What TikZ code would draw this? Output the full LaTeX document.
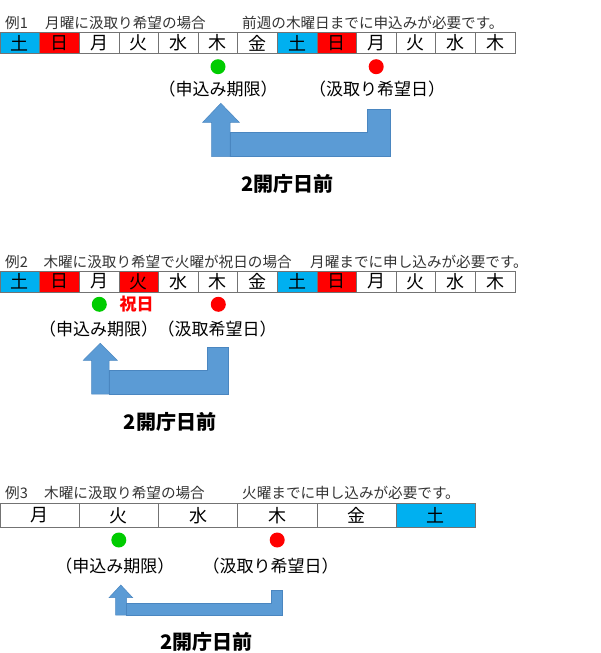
\documentclass[tikz,border=0pt]{standalone}
\usepackage{fontspec}
\usepackage{tikz}
\newfontfamily\jp{Noto Sans CJK JP}
\definecolor{satblue}{HTML}{00B0F0}
\definecolor{sunred}{HTML}{FF0000}
\definecolor{okgreen}{HTML}{00CC00}
\definecolor{arrowblue}{HTML}{5B9BD5}
\definecolor{arrowedge}{HTML}{4A86C0}

\begin{document}
\begin{tikzpicture}[x=1pt,y=-1pt,
  day/.style={draw=black!55,line width=0.6pt,minimum width=39.6pt,minimum height=21.4pt,inner sep=0pt,font=\jp\fontsize{18}{18}\selectfont},
  wday/.style={day,minimum width=79.2pt,minimum height=24pt},
  titletext/.style={anchor=west,inner sep=0pt,text=black!80,font=\jp\fontsize{14.6}{14.6}\selectfont},
  tag/.style={inner sep=0pt,font=\jp\fontsize{17}{17}\selectfont},
  holiday/.style={inner sep=0pt,text=sunred,font=\jp\bfseries\fontsize{17}{17}\selectfont},
  days/.style={inner sep=0pt,font=\jp\bfseries\fontsize{20}{20}\selectfont},
  dot/.style={circle,inner sep=0pt,minimum size=15pt},
  block/.style={fill=arrowblue,draw=arrowedge,line width=0.5pt}]
\useasboundingbox (0,0) rectangle (600,653);

% example 1
\node[titletext] (ex1) at (5,23) {例1};
\node[titletext] (case1) at (45,23) {月曜に汲取り希望の場合};
\node[titletext] (need1) at (242,23) {前週の木曜日までに申込みが必要です。};
\node[day,fill=satblue] (a1) at (19.8,43) {土};
\node[day,fill=sunred] (a2) at (59.4,43) {日};
\node[day] (a3) at (99,43) {月};
\node[day] (a4) at (138.6,43) {火};
\node[day] (a5) at (178.2,43) {水};
\node[day] (a6) at (217.8,43) {木};
\node[day] (a7) at (257.4,43) {金};
\node[day,fill=satblue] (a8) at (297,43) {土};
\node[day,fill=sunred] (a9) at (336.6,43) {日};
\node[day] (a10) at (376.2,43) {月};
\node[day] (a11) at (415.8,43) {火};
\node[day] (a12) at (455.4,43) {水};
\node[day] (a13) at (495,43) {木};
\node[dot,fill=okgreen] (ok1) at (218,66.7) {};
\node[dot,fill=sunred] (want1) at (376.2,66.7) {};
\node[tag] (limit1) at (218,89.3) {（申込み期限）};
\node[tag] (wish1) at (377,89.3) {（汲取り希望日）};
\draw[block] (211.7,156.7) -- (211.7,122.3) -- (202.7,122.3) -- (220.8,103.3) -- (239.3,122.3) -- (230,122.3) -- (230,156.7) -- cycle;
\draw[block] (230,132.7) -- (367.3,132.7) -- (367.3,109) -- (390,109) -- (390,156.7) -- (230,156.7) -- cycle;
\node[days] (back1) at (287.5,184.3) {2開庁日前};

% example 2
\node[titletext] (ex2) at (5,261.7) {例2};
\node[titletext] (case2) at (43.3,261.7) {木曜に汲取り希望で火曜が祝日の場合};
\node[titletext] (need2) at (310,261.7) {月曜までに申し込みが必要です。};
\node[day,fill=satblue] (b1) at (19.8,281.5) {土};
\node[day,fill=sunred] (b2) at (59.4,281.5) {日};
\node[day] (b3) at (99,281.5) {月};
\node[day,fill=sunred] (b4) at (138.6,281.5) {火};
\node[day] (b5) at (178.2,281.5) {水};
\node[day] (b6) at (217.8,281.5) {木};
\node[day] (b7) at (257.4,281.5) {金};
\node[day,fill=satblue] (b8) at (297,281.5) {土};
\node[day,fill=sunred] (b9) at (336.6,281.5) {日};
\node[day] (b10) at (376.2,281.5) {月};
\node[day] (b11) at (415.8,281.5) {火};
\node[day] (b12) at (455.4,281.5) {水};
\node[day] (b13) at (495,281.5) {木};
\node[dot,fill=okgreen] (ok2) at (99.3,304.3) {};
\node[holiday] (hol2) at (136.7,304.3) {祝日};
\node[dot,fill=sunred] (want2) at (218.3,304.3) {};
\node[tag] (limit2) at (98.5,329.3) {（申込み期限）};
\node[tag] (wish2) at (217,329.3) {（汲取希望日）};
\draw[block] (91.7,394) -- (91.7,360.3) -- (83.3,360.3) -- (100.2,343.3) -- (117.3,360.3) -- (109,360.3) -- (109,394) -- cycle;
\draw[block] (109,370.7) -- (207.7,370.7) -- (207.7,347.3) -- (228.3,347.3) -- (228.3,394) -- (109,394) -- cycle;
\node[days] (back2) at (170,421.7) {2開庁日前};

% example 3
\node[titletext] (ex3) at (5,493.3) {例3};
\node[titletext] (case3) at (44,493.3) {木曜に汲取り希望の場合};
\node[titletext] (need3) at (242,493.3) {火曜までに申し込みが必要です。};
\node[wday] (c1) at (39.6,515.3) {月};
\node[wday] (c2) at (118.8,515.3) {火};
\node[wday] (c3) at (198,515.3) {水};
\node[wday] (c4) at (277.2,515.3) {木};
\node[wday] (c5) at (356.4,515.3) {金};
\node[wday,fill=satblue] (c6) at (435.6,515.3) {土};
\node[dot,fill=okgreen] (ok3) at (118.8,540) {};
\node[dot,fill=sunred] (want3) at (277.2,540) {};
\node[tag] (limit3) at (114.8,565.7) {（申込み期限）};
\node[tag] (wish3) at (270.7,565.7) {（汲取り希望日）};
\draw[block] (115.7,615) -- (115.7,597.7) -- (109,597.7) -- (120.8,585) -- (132.7,597.7) -- (126.7,597.7) -- (126.7,615) -- cycle;
\draw[block] (126.7,603.3) -- (271,603.3) -- (271,590) -- (282.3,590) -- (282.3,615) -- (126.7,615) -- cycle;
\node[days] (back3) at (206.7,641.7) {2開庁日前};
\end{tikzpicture}
\end{document}
